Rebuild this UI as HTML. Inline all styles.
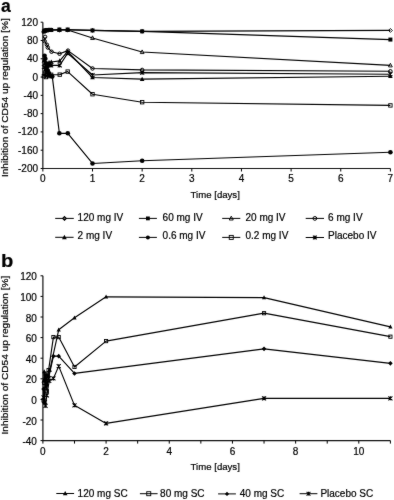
<!DOCTYPE html>
<html><head><meta charset="utf-8"><style>
html,body{margin:0;padding:0;background:#fff;width:394px;height:500px;overflow:hidden;}
body{position:relative;font-family:'Liberation Sans', sans-serif;}
</style></head><body>
<svg width="394" height="500" viewBox="0 0 394 500" style="position:absolute;left:0;top:0">
<defs><filter id="sf" x="0" y="0" width="394" height="500" filterUnits="userSpaceOnUse" color-interpolation-filters="sRGB"><feConvolveMatrix order="3" kernelMatrix="1 2 1 2 40 2 1 2 1" divisor="52" edgeMode="duplicate"/></filter></defs>
<g filter="url(#sf)"><rect width="394" height="500" fill="#fff"/>
<g font-family="'Liberation Sans', sans-serif" fill="#000">
<text transform="translate(1,11.7)" font-size="17.5" font-weight="bold" stroke="#000" stroke-width="0.2">a</text>
<text transform="translate(1.1,267.1) scale(1.1,1)" font-size="18.3" font-weight="bold" stroke="#000" stroke-width="0.2">b</text>
<text transform="translate(8.1,97.7) rotate(-90) scale(1.064,1)" font-size="9.5" text-anchor="middle" stroke="#000" stroke-width="0.2">Inhibition of CD54 up regulation [%]</text>
<text transform="translate(8.1,355.1) rotate(-90) scale(1.064,1)" font-size="9.5" text-anchor="middle" stroke="#000" stroke-width="0.2">Inhibition of CD54 up regulation [%]</text>
<text transform="translate(215.2,198.2)" font-size="9.6" text-anchor="middle" stroke="#000" stroke-width="0.2">Time [days]</text>
<text transform="translate(215.2,470.1)" font-size="9.6" text-anchor="middle" stroke="#000" stroke-width="0.2">Time [days]</text>
<path d="M42.85 22.2V168.5H390.4" fill="none" stroke="#111" stroke-width="1.2"/>
<text transform="translate(38,25.75)" font-size="10" text-anchor="end" stroke="#000" stroke-width="0.2">120</text>
<text transform="translate(38,44.04)" font-size="10" text-anchor="end" stroke="#000" stroke-width="0.2">80</text>
<text transform="translate(38,62.33)" font-size="10" text-anchor="end" stroke="#000" stroke-width="0.2">40</text>
<text transform="translate(38,80.61)" font-size="10" text-anchor="end" stroke="#000" stroke-width="0.2">0</text>
<text transform="translate(38,98.9)" font-size="10" text-anchor="end" stroke="#000" stroke-width="0.2">-40</text>
<text transform="translate(38,117.19)" font-size="10" text-anchor="end" stroke="#000" stroke-width="0.2">-80</text>
<text transform="translate(38,135.47)" font-size="10" text-anchor="end" stroke="#000" stroke-width="0.2">-120</text>
<text transform="translate(38,153.76)" font-size="10" text-anchor="end" stroke="#000" stroke-width="0.2">-160</text>
<text transform="translate(38,172.05)" font-size="10" text-anchor="end" stroke="#000" stroke-width="0.2">-200</text>
<text transform="translate(42.85,182.4)" font-size="10" text-anchor="middle" stroke="#000" stroke-width="0.2">0</text>
<text transform="translate(92.5,182.4)" font-size="10" text-anchor="middle" stroke="#000" stroke-width="0.2">1</text>
<text transform="translate(142.15,182.4)" font-size="10" text-anchor="middle" stroke="#000" stroke-width="0.2">2</text>
<text transform="translate(191.8,182.4)" font-size="10" text-anchor="middle" stroke="#000" stroke-width="0.2">3</text>
<text transform="translate(241.45,182.4)" font-size="10" text-anchor="middle" stroke="#000" stroke-width="0.2">4</text>
<text transform="translate(291.1,182.4)" font-size="10" text-anchor="middle" stroke="#000" stroke-width="0.2">5</text>
<text transform="translate(340.75,182.4)" font-size="10" text-anchor="middle" stroke="#000" stroke-width="0.2">6</text>
<text transform="translate(390.4,182.4)" font-size="10" text-anchor="middle" stroke="#000" stroke-width="0.2">7</text>
<path d="M40.65 22.2H42.85M40.65 40.49H42.85M40.65 58.78H42.85M40.65 77.06H42.85M40.65 95.35H42.85M40.65 113.64H42.85M40.65 131.92H42.85M40.65 150.21H42.85M40.65 168.5H42.85M42.85 168.5V171.5M92.5 168.5V171.5M142.15 168.5V171.5M191.8 168.5V171.5M241.45 168.5V171.5M291.1 168.5V171.5M340.75 168.5V171.5M390.4 168.5V171.5" stroke="#000" stroke-width="1"/>
<path d="M42.9 275.8V440.6H390.4" fill="none" stroke="#111" stroke-width="1.2"/>
<text transform="translate(36.9,280.3)" font-size="10" text-anchor="end" stroke="#000" stroke-width="0.2">120</text>
<text transform="translate(36.9,300.9)" font-size="10" text-anchor="end" stroke="#000" stroke-width="0.2">100</text>
<text transform="translate(36.9,321.5)" font-size="10" text-anchor="end" stroke="#000" stroke-width="0.2">80</text>
<text transform="translate(36.9,342.1)" font-size="10" text-anchor="end" stroke="#000" stroke-width="0.2">60</text>
<text transform="translate(36.9,362.7)" font-size="10" text-anchor="end" stroke="#000" stroke-width="0.2">40</text>
<text transform="translate(36.9,383.3)" font-size="10" text-anchor="end" stroke="#000" stroke-width="0.2">20</text>
<text transform="translate(36.9,403.9)" font-size="10" text-anchor="end" stroke="#000" stroke-width="0.2">0</text>
<text transform="translate(36.9,424.5)" font-size="10" text-anchor="end" stroke="#000" stroke-width="0.2">-20</text>
<text transform="translate(36.9,445.1)" font-size="10" text-anchor="end" stroke="#000" stroke-width="0.2">-40</text>
<text transform="translate(42.9,454.7)" font-size="10" text-anchor="middle" stroke="#000" stroke-width="0.2">0</text>
<text transform="translate(106.08,454.7)" font-size="10" text-anchor="middle" stroke="#000" stroke-width="0.2">2</text>
<text transform="translate(169.26,454.7)" font-size="10" text-anchor="middle" stroke="#000" stroke-width="0.2">4</text>
<text transform="translate(232.45,454.7)" font-size="10" text-anchor="middle" stroke="#000" stroke-width="0.2">6</text>
<text transform="translate(295.63,454.7)" font-size="10" text-anchor="middle" stroke="#000" stroke-width="0.2">8</text>
<text transform="translate(358.81,454.7)" font-size="10" text-anchor="middle" stroke="#000" stroke-width="0.2">10</text>
<path d="M40.5 275.8H42.9M40.5 296.4H42.9M40.5 317H42.9M40.5 337.6H42.9M40.5 358.2H42.9M40.5 378.8H42.9M40.5 399.4H42.9M40.5 420H42.9M40.5 440.6H42.9M42.9 440.6V443.6M74.49 440.6V443.6M106.08 440.6V443.6M137.67 440.6V443.6M169.26 440.6V443.6M200.85 440.6V443.6M232.45 440.6V443.6M264.04 440.6V443.6M295.63 440.6V443.6M327.22 440.6V443.6M358.81 440.6V443.6M390.4 440.6V443.6" stroke="#000" stroke-width="1"/>
<path d="M43.89 76.15L44.94 74.32L45.98 77.06L46.97 75.23L49.06 76.15L51.14 74.78L59.73 74.64L67.67 71.58L92.5 94.21L142.15 102.21L390.4 105.41" fill="none" stroke="#000" stroke-width="1.15" stroke-linejoin="round"/>
<rect x="42.19" y="74.45" width="3.4" height="3.4" fill="none" stroke="#000" stroke-width="0.9"/>
<rect x="43.24" y="72.62" width="3.4" height="3.4" fill="none" stroke="#000" stroke-width="0.9"/>
<rect x="44.28" y="75.36" width="3.4" height="3.4" fill="none" stroke="#000" stroke-width="0.9"/>
<rect x="45.27" y="73.53" width="3.4" height="3.4" fill="none" stroke="#000" stroke-width="0.9"/>
<rect x="47.36" y="74.45" width="3.4" height="3.4" fill="none" stroke="#000" stroke-width="0.9"/>
<rect x="49.44" y="73.08" width="3.4" height="3.4" fill="none" stroke="#000" stroke-width="0.9"/>
<rect x="58.03" y="72.94" width="3.4" height="3.4" fill="none" stroke="#000" stroke-width="0.9"/>
<rect x="65.98" y="69.88" width="3.4" height="3.4" fill="none" stroke="#000" stroke-width="0.9"/>
<rect x="90.8" y="92.51" width="3.4" height="3.4" fill="none" stroke="#000" stroke-width="0.9"/>
<rect x="140.45" y="100.51" width="3.4" height="3.4" fill="none" stroke="#000" stroke-width="0.9"/>
<rect x="388.7" y="103.71" width="3.4" height="3.4" fill="none" stroke="#000" stroke-width="0.9"/>
<path d="M45.08 36.83L44.64 41.17L46.87 44.69L47.81 47.53L51.54 51.73L59.53 53.75L67.97 50.64L92.5 68.47L142.15 69.93L390.4 71.26" fill="none" stroke="#000" stroke-width="1.15" stroke-linejoin="round"/>
<circle cx="45.08" cy="36.83" r="1.75" fill="none" stroke="#000" stroke-width="1.0"/>
<circle cx="44.64" cy="41.17" r="1.75" fill="none" stroke="#000" stroke-width="1.0"/>
<circle cx="46.87" cy="44.69" r="1.75" fill="none" stroke="#000" stroke-width="1.0"/>
<circle cx="47.81" cy="47.53" r="1.75" fill="none" stroke="#000" stroke-width="1.0"/>
<circle cx="51.54" cy="51.73" r="1.75" fill="none" stroke="#000" stroke-width="1.0"/>
<circle cx="59.53" cy="53.75" r="1.75" fill="none" stroke="#000" stroke-width="1.0"/>
<circle cx="67.97" cy="50.64" r="1.75" fill="none" stroke="#000" stroke-width="1.0"/>
<circle cx="92.5" cy="68.47" r="1.75" fill="none" stroke="#000" stroke-width="1.0"/>
<circle cx="142.15" cy="69.93" r="1.75" fill="none" stroke="#000" stroke-width="1.0"/>
<circle cx="390.4" cy="71.26" r="1.75" fill="none" stroke="#000" stroke-width="1.0"/>
<path d="M43.89 67L44.94 69.75L45.98 72.49L46.97 67.92L49.06 65.18L51.14 65.4L59.73 65.4L67.67 53.29L92.5 75.05L142.15 72.63L390.4 74.23" fill="none" stroke="#000" stroke-width="1.15" stroke-linejoin="round"/>
<path d="M41.89 65L45.89 69M45.89 65L41.89 69M43.89 65V69" stroke="#000" stroke-width="1.05" fill="none"/>
<path d="M42.94 67.75L46.94 71.75M46.94 67.75L42.94 71.75M44.94 67.75V71.75" stroke="#000" stroke-width="1.05" fill="none"/>
<path d="M43.98 70.49L47.98 74.49M47.98 70.49L43.98 74.49M45.98 70.49V74.49" stroke="#000" stroke-width="1.05" fill="none"/>
<path d="M44.97 65.92L48.97 69.92M48.97 65.92L44.97 69.92M46.97 65.92V69.92" stroke="#000" stroke-width="1.05" fill="none"/>
<path d="M47.06 63.18L51.06 67.18M51.06 63.18L47.06 67.18M49.06 63.18V67.18" stroke="#000" stroke-width="1.05" fill="none"/>
<path d="M49.14 63.4L53.14 67.4M53.14 63.4L49.14 67.4M51.14 63.4V67.4" stroke="#000" stroke-width="1.05" fill="none"/>
<path d="M57.73 63.4L61.73 67.4M61.73 63.4L57.73 67.4M59.73 63.4V67.4" stroke="#000" stroke-width="1.05" fill="none"/>
<path d="M65.67 51.29L69.67 55.29M69.67 51.29L65.67 55.29M67.67 51.29V55.29" stroke="#000" stroke-width="1.05" fill="none"/>
<path d="M90.5 73.05L94.5 77.05M94.5 73.05L90.5 77.05M92.5 73.05V77.05" stroke="#000" stroke-width="1.05" fill="none"/>
<path d="M140.15 70.63L144.15 74.63M144.15 70.63L140.15 74.63M142.15 70.63V74.63" stroke="#000" stroke-width="1.05" fill="none"/>
<path d="M388.4 72.23L392.4 76.23M392.4 72.23L388.4 76.23M390.4 72.23V76.23" stroke="#000" stroke-width="1.05" fill="none"/>
<path d="M43.89 60.6L44.94 63.35L45.98 66.09L46.97 64.26L49.06 62.43L51.29 61.98L59.73 60.83L67.67 51.46L92.5 77.52L142.15 79.17L390.4 76.24" fill="none" stroke="#000" stroke-width="1.15" stroke-linejoin="round"/>
<path d="M43.89 58.07L46.19 62.44L41.59 62.44Z" fill="#000"/>
<path d="M44.94 60.82L47.24 65.19L42.64 65.19Z" fill="#000"/>
<path d="M45.98 63.56L48.28 67.93L43.68 67.93Z" fill="#000"/>
<path d="M46.97 61.73L49.27 66.1L44.67 66.1Z" fill="#000"/>
<path d="M49.06 59.9L51.36 64.27L46.76 64.27Z" fill="#000"/>
<path d="M51.29 59.45L53.59 63.82L48.99 63.82Z" fill="#000"/>
<path d="M59.73 58.3L62.03 62.67L57.43 62.67Z" fill="#000"/>
<path d="M67.67 48.93L69.97 53.3L65.38 53.3Z" fill="#000"/>
<path d="M92.5 74.99L94.8 79.36L90.2 79.36Z" fill="#000"/>
<path d="M142.15 76.64L144.45 81.01L139.85 81.01Z" fill="#000"/>
<path d="M390.4 73.71L392.7 78.08L388.1 78.08Z" fill="#000"/>
<path d="M44.59 55.76L45.33 58.78L46.08 63.35L46.97 67L47.81 70.66L49.06 73.41L50.3 75.69L52.28 76.61L59.38 133.3L67.77 133.3L92.5 163.47L142.15 160.73L390.4 152.22" fill="none" stroke="#000" stroke-width="1.15" stroke-linejoin="round"/>
<circle cx="44.59" cy="55.76" r="2.3" fill="#000"/>
<circle cx="45.33" cy="58.78" r="2.3" fill="#000"/>
<circle cx="46.08" cy="63.35" r="2.3" fill="#000"/>
<circle cx="46.97" cy="67" r="2.3" fill="#000"/>
<circle cx="47.81" cy="70.66" r="2.3" fill="#000"/>
<circle cx="49.06" cy="73.41" r="2.3" fill="#000"/>
<circle cx="50.3" cy="75.69" r="2.3" fill="#000"/>
<circle cx="52.28" cy="76.61" r="2.3" fill="#000"/>
<circle cx="59.38" cy="133.3" r="2.3" fill="#000"/>
<circle cx="67.77" cy="133.3" r="2.3" fill="#000"/>
<circle cx="92.5" cy="163.47" r="2.3" fill="#000"/>
<circle cx="142.15" cy="160.73" r="2.3" fill="#000"/>
<circle cx="390.4" cy="152.22" r="2.3" fill="#000"/>
<path d="M43.89 31.34L44.94 30.89L46.97 30.43L49.06 29.97L51.14 29.97L59.38 29.97L67.67 29.97L92.5 37.97L142.15 52.05L390.4 65.4" fill="none" stroke="#000" stroke-width="1.15" stroke-linejoin="round"/>
<path d="M43.89 29.2L45.79 32.86L41.99 32.86Z" fill="none" stroke="#000" stroke-width="0.9"/>
<path d="M44.94 28.75L46.84 32.41L43.04 32.41Z" fill="none" stroke="#000" stroke-width="0.9"/>
<path d="M46.97 28.29L48.87 31.95L45.07 31.95Z" fill="none" stroke="#000" stroke-width="0.9"/>
<path d="M49.06 27.83L50.96 31.49L47.16 31.49Z" fill="none" stroke="#000" stroke-width="0.9"/>
<path d="M51.14 27.83L53.04 31.49L49.24 31.49Z" fill="none" stroke="#000" stroke-width="0.9"/>
<path d="M59.38 27.83L61.28 31.49L57.48 31.49Z" fill="none" stroke="#000" stroke-width="0.9"/>
<path d="M67.67 27.83L69.58 31.49L65.77 31.49Z" fill="none" stroke="#000" stroke-width="0.9"/>
<path d="M92.5 35.83L94.4 39.49L90.6 39.49Z" fill="none" stroke="#000" stroke-width="0.9"/>
<path d="M142.15 49.91L144.05 53.57L140.25 53.57Z" fill="none" stroke="#000" stroke-width="0.9"/>
<path d="M390.4 63.26L392.3 66.92L388.5 66.92Z" fill="none" stroke="#000" stroke-width="0.9"/>
<path d="M43.89 31.34L44.94 30.43L46.97 29.97L49.06 29.97L51.14 29.97L59.38 29.97L67.67 29.97L92.5 30.43L142.15 31.34L390.4 30.43" fill="none" stroke="#000" stroke-width="1.15" stroke-linejoin="round"/>
<path d="M43.89 29.39L45.84 31.34L43.89 33.29L41.94 31.34Z" fill="none" stroke="#000" stroke-width="0.9"/>
<path d="M44.94 28.48L46.89 30.43L44.94 32.38L42.99 30.43Z" fill="none" stroke="#000" stroke-width="0.9"/>
<path d="M46.97 28.02L48.92 29.97L46.97 31.92L45.02 29.97Z" fill="none" stroke="#000" stroke-width="0.9"/>
<path d="M49.06 28.02L51.01 29.97L49.06 31.92L47.11 29.97Z" fill="none" stroke="#000" stroke-width="0.9"/>
<path d="M51.14 28.02L53.09 29.97L51.14 31.92L49.19 29.97Z" fill="none" stroke="#000" stroke-width="0.9"/>
<path d="M59.38 28.02L61.33 29.97L59.38 31.92L57.43 29.97Z" fill="none" stroke="#000" stroke-width="0.9"/>
<path d="M67.67 28.02L69.62 29.97L67.67 31.92L65.72 29.97Z" fill="none" stroke="#000" stroke-width="0.9"/>
<path d="M92.5 28.48L94.45 30.43L92.5 32.38L90.55 30.43Z" fill="none" stroke="#000" stroke-width="0.9"/>
<path d="M142.15 29.39L144.1 31.34L142.15 33.29L140.2 31.34Z" fill="none" stroke="#000" stroke-width="0.9"/>
<path d="M390.4 28.48L392.35 30.43L390.4 32.38L388.45 30.43Z" fill="none" stroke="#000" stroke-width="0.9"/>
<path d="M43.89 31.34L44.94 30.43L46.97 29.97L49.06 29.97L51.14 29.97L59.38 29.52L67.67 29.52L92.5 30.43L142.15 31.34L390.4 39.57" fill="none" stroke="#000" stroke-width="1.15" stroke-linejoin="round"/>
<rect x="41.89" y="29.34" width="4" height="4" fill="#000"/>
<rect x="42.94" y="28.43" width="4" height="4" fill="#000"/>
<rect x="44.97" y="27.97" width="4" height="4" fill="#000"/>
<rect x="47.06" y="27.97" width="4" height="4" fill="#000"/>
<rect x="49.14" y="27.97" width="4" height="4" fill="#000"/>
<rect x="57.38" y="27.52" width="4" height="4" fill="#000"/>
<rect x="65.67" y="27.52" width="4" height="4" fill="#000"/>
<rect x="90.5" y="28.43" width="4" height="4" fill="#000"/>
<rect x="140.15" y="29.34" width="4" height="4" fill="#000"/>
<rect x="388.4" y="37.57" width="4" height="4" fill="#000"/>
<path d="M43.56 397.34L44.89 402.18L45.52 405.79L46.85 395.28L49.22 380.86L53.42 378.49L58.7 366.13L74.49 405.37L106.08 423.4L264.04 398.37L390.4 398.37" fill="none" stroke="#000" stroke-width="1.15" stroke-linejoin="round"/>
<path d="M41.56 395.34L45.56 399.34M45.56 395.34L41.56 399.34M43.56 395.34V399.34" stroke="#000" stroke-width="1.05" fill="none"/>
<path d="M42.89 400.18L46.89 404.18M46.89 400.18L42.89 404.18M44.89 400.18V404.18" stroke="#000" stroke-width="1.05" fill="none"/>
<path d="M43.52 403.79L47.52 407.79M47.52 403.79L43.52 407.79M45.52 403.79V407.79" stroke="#000" stroke-width="1.05" fill="none"/>
<path d="M44.85 393.28L48.85 397.28M48.85 393.28L44.85 397.28M46.85 393.28V397.28" stroke="#000" stroke-width="1.05" fill="none"/>
<path d="M47.22 378.86L51.22 382.86M51.22 378.86L47.22 382.86M49.22 378.86V382.86" stroke="#000" stroke-width="1.05" fill="none"/>
<path d="M51.42 376.49L55.42 380.49M55.42 376.49L51.42 380.49M53.42 376.49V380.49" stroke="#000" stroke-width="1.05" fill="none"/>
<path d="M56.7 364.13L60.7 368.13M60.7 364.13L56.7 368.13M58.7 364.13V368.13" stroke="#000" stroke-width="1.05" fill="none"/>
<path d="M72.49 403.37L76.49 407.37M76.49 403.37L72.49 407.37M74.49 403.37V407.37" stroke="#000" stroke-width="1.05" fill="none"/>
<path d="M104.08 421.4L108.08 425.4M108.08 421.4L104.08 425.4M106.08 421.4V425.4" stroke="#000" stroke-width="1.05" fill="none"/>
<path d="M262.04 396.37L266.04 400.37M266.04 396.37L262.04 400.37M264.04 396.37V400.37" stroke="#000" stroke-width="1.05" fill="none"/>
<path d="M388.4 396.37L392.4 400.37M392.4 396.37L388.4 400.37M390.4 396.37V400.37" stroke="#000" stroke-width="1.05" fill="none"/>
<path d="M43.56 389.1L44.23 402.49L45.52 379.83L46.85 384.98L48.9 376.74L53.42 356.14L58.7 356.14L74.49 373.44L264.04 348.83L390.4 363.35" fill="none" stroke="#000" stroke-width="1.15" stroke-linejoin="round"/>
<path d="M43.56 386.8L45.86 389.1L43.56 391.4L41.26 389.1Z" fill="#000"/>
<path d="M44.23 400.19L46.53 402.49L44.23 404.79L41.93 402.49Z" fill="#000"/>
<path d="M45.52 377.53L47.82 379.83L45.52 382.13L43.22 379.83Z" fill="#000"/>
<path d="M46.85 382.68L49.15 384.98L46.85 387.28L44.55 384.98Z" fill="#000"/>
<path d="M48.9 374.44L51.2 376.74L48.9 379.04L46.6 376.74Z" fill="#000"/>
<path d="M53.42 353.84L55.72 356.14L53.42 358.44L51.12 356.14Z" fill="#000"/>
<path d="M58.7 353.84L61 356.14L58.7 358.44L56.4 356.14Z" fill="#000"/>
<path d="M74.49 371.14L76.79 373.44L74.49 375.74L72.19 373.44Z" fill="#000"/>
<path d="M264.04 346.53L266.34 348.83L264.04 351.13L261.74 348.83Z" fill="#000"/>
<path d="M390.4 361.05L392.7 363.35L390.4 365.65L388.1 363.35Z" fill="#000"/>
<path d="M43.56 400.43L44.23 382.92L45.52 373.65L46.85 391.16L48.59 370.05L53.42 337.09L58.7 337.09L74.49 366.96L106.08 341.1L264.04 313.19L390.4 336.67" fill="none" stroke="#000" stroke-width="1.15" stroke-linejoin="round"/>
<rect x="41.96" y="398.83" width="3.2" height="3.2" fill="none" stroke="#000" stroke-width="0.9"/>
<rect x="42.63" y="381.32" width="3.2" height="3.2" fill="none" stroke="#000" stroke-width="0.9"/>
<rect x="43.92" y="372.05" width="3.2" height="3.2" fill="none" stroke="#000" stroke-width="0.9"/>
<rect x="45.25" y="389.56" width="3.2" height="3.2" fill="none" stroke="#000" stroke-width="0.9"/>
<rect x="46.99" y="368.44" width="3.2" height="3.2" fill="none" stroke="#000" stroke-width="0.9"/>
<rect x="51.82" y="335.49" width="3.2" height="3.2" fill="none" stroke="#000" stroke-width="0.9"/>
<rect x="57.1" y="335.49" width="3.2" height="3.2" fill="none" stroke="#000" stroke-width="0.9"/>
<rect x="72.89" y="365.36" width="3.2" height="3.2" fill="none" stroke="#000" stroke-width="0.9"/>
<rect x="104.48" y="339.5" width="3.2" height="3.2" fill="none" stroke="#000" stroke-width="0.9"/>
<rect x="262.44" y="311.59" width="3.2" height="3.2" fill="none" stroke="#000" stroke-width="0.9"/>
<rect x="388.8" y="335.07" width="3.2" height="3.2" fill="none" stroke="#000" stroke-width="0.9"/>
<path d="M43.56 380.86L44.23 371.59L45.52 387.04L46.85 374.68L48.27 376.74L49.85 370.05L58.7 329.77L74.49 317.82L106.08 296.81L264.04 297.64L390.4 326.89" fill="none" stroke="#000" stroke-width="1.15" stroke-linejoin="round"/>
<path d="M43.56 378.55L45.66 382.54L41.46 382.54Z" fill="#000"/>
<path d="M44.23 369.28L46.33 373.27L42.13 373.27Z" fill="#000"/>
<path d="M45.52 384.73L47.62 388.72L43.42 388.72Z" fill="#000"/>
<path d="M46.85 372.37L48.95 376.36L44.75 376.36Z" fill="#000"/>
<path d="M48.27 374.43L50.37 378.42L46.17 378.42Z" fill="#000"/>
<path d="M49.85 367.74L51.95 371.73L47.75 371.73Z" fill="#000"/>
<path d="M58.7 327.46L60.8 331.45L56.6 331.45Z" fill="#000"/>
<path d="M74.49 315.51L76.59 319.5L72.39 319.5Z" fill="#000"/>
<path d="M106.08 294.5L108.18 298.49L103.98 298.49Z" fill="#000"/>
<path d="M264.04 295.33L266.14 299.32L261.94 299.32Z" fill="#000"/>
<path d="M390.4 324.58L392.5 328.57L388.3 328.57Z" fill="#000"/>
<path d="M55.2 218.4H73.8" stroke="#000" stroke-width="1"/>
<path d="M64.5 216.55L66.35 218.4L64.5 220.25L62.65 218.4Z" fill="#666" stroke="#000" stroke-width="1.1"/>
<text transform="translate(77.6,220.9)" font-size="10" stroke="#000" stroke-width="0.2">120 mg IV</text>
<path d="M138.9 218.4H156.9" stroke="#000" stroke-width="1"/>
<rect x="146" y="216.5" width="3.8" height="3.8" fill="#000"/>
<text transform="translate(162.6,220.9)" font-size="10" stroke="#000" stroke-width="0.2">60 mg IV</text>
<path d="M222.2 218.4H240.3" stroke="#000" stroke-width="1"/>
<path d="M231.25 216.15L233.25 220L229.25 220Z" fill="none" stroke="#000" stroke-width="0.9"/>
<text transform="translate(245.5,220.9)" font-size="10" stroke="#000" stroke-width="0.2">20 mg IV</text>
<path d="M305.7 218.4H324" stroke="#000" stroke-width="1"/>
<circle cx="314.85" cy="218.4" r="1.9" fill="none" stroke="#000" stroke-width="1.0"/>
<text transform="translate(328.1,220.9)" font-size="10" stroke="#000" stroke-width="0.2">6 mg IV</text>
<path d="M55.2 237.3H73.6" stroke="#000" stroke-width="1"/>
<path d="M64.4 234.66L66.8 239.22L62 239.22Z" fill="#000"/>
<text transform="translate(77.6,239.3)" font-size="10" stroke="#000" stroke-width="0.2">2 mg IV</text>
<path d="M138.9 237.4H156.9" stroke="#000" stroke-width="1"/>
<circle cx="147.9" cy="237.4" r="2" fill="#000"/>
<text transform="translate(162.6,239.3)" font-size="10" stroke="#000" stroke-width="0.2">0.6 mg IV</text>
<path d="M222.2 237.4H240.3" stroke="#000" stroke-width="1"/>
<rect x="229.25" y="235.4" width="4" height="4" fill="none" stroke="#000" stroke-width="0.9"/>
<text transform="translate(245.5,239.3)" font-size="10" stroke="#000" stroke-width="0.2">0.2 mg IV</text>
<path d="M305.7 237.5H324" stroke="#000" stroke-width="1"/>
<path d="M312.95 235.6L316.75 239.4M316.75 235.6L312.95 239.4M314.85 235.6V239.4" stroke="#000" stroke-width="1.05" fill="none"/>
<text transform="translate(328.1,239.3)" font-size="10" stroke="#000" stroke-width="0.2">Placebo IV</text>
<path d="M56.3 493.5H74.1" stroke="#000" stroke-width="1"/>
<path d="M65.2 490.97L67.5 495.34L62.9 495.34Z" fill="#000"/>
<text transform="translate(77.6,496.9)" font-size="10" stroke="#000" stroke-width="0.2">120 mg SC</text>
<path d="M139.9 493.7H157.6" stroke="#000" stroke-width="1"/>
<rect x="146.75" y="491.7" width="4" height="4" fill="none" stroke="#000" stroke-width="0.9"/>
<text transform="translate(160.1,496.9)" font-size="10" stroke="#000" stroke-width="0.2">80 mg SC</text>
<path d="M218.1 493.9H235.9" stroke="#000" stroke-width="1"/>
<path d="M227 491.8L229.1 493.9L227 496L224.9 493.9Z" fill="#000"/>
<text transform="translate(239.8,496.9)" font-size="10" stroke="#000" stroke-width="0.2">40 mg SC</text>
<path d="M299.6 493.7H317.4" stroke="#000" stroke-width="1"/>
<path d="M306.6 491.8L310.4 495.6M310.4 491.8L306.6 495.6M308.5 491.8V495.6" stroke="#000" stroke-width="1.05" fill="none"/>
<text transform="translate(320.4,496.9)" font-size="10" stroke="#000" stroke-width="0.2">Placebo SC</text>
</g></g></svg>
</body></html>
